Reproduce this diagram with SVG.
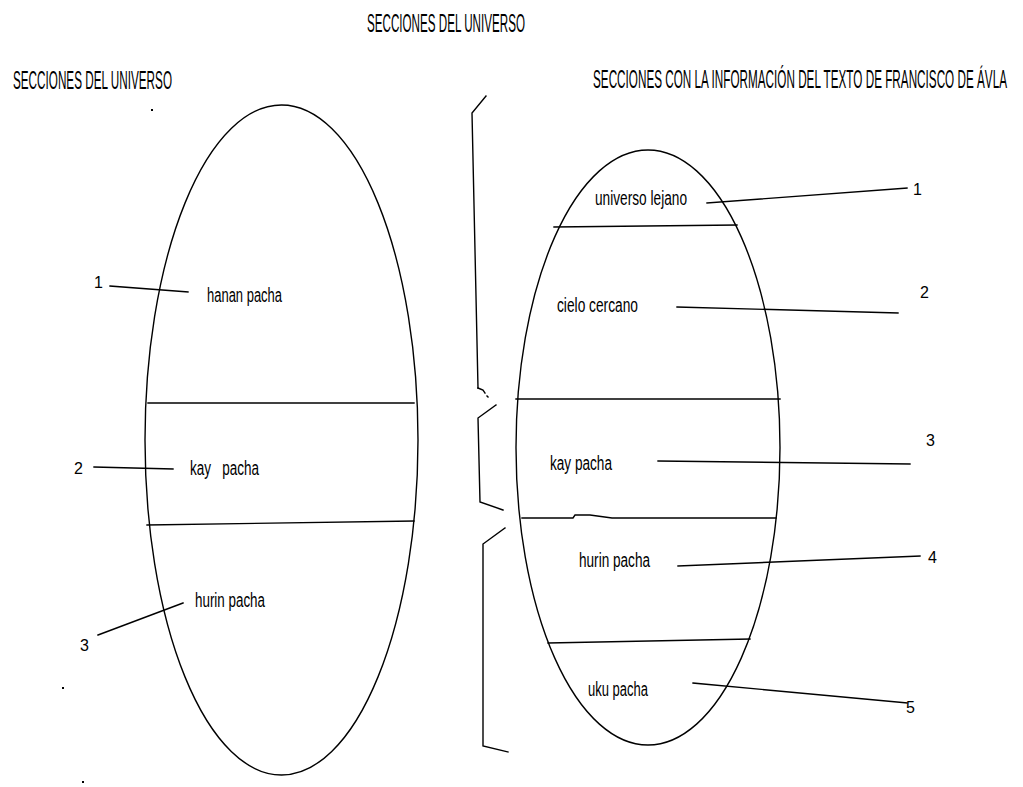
<svg xmlns="http://www.w3.org/2000/svg" width="1023" height="787" viewBox="0 0 1023 787">
<style>
.bg{fill:#fff}
.shape{fill:none;stroke:#000;stroke-width:1.4}
.ln{fill:none;stroke:#000;stroke-width:1.4;stroke-linecap:square}
.hd{font-family:"Liberation Sans",Arial,sans-serif;font-size:26px;fill:#000}
.lb{font-family:"Liberation Sans",Arial,sans-serif;font-size:20px;fill:#000}
.nm{font-family:"Liberation Sans",Arial,sans-serif;font-size:16px;fill:#000}
.dot{fill:#000}
</style>
<rect class="bg" x="0" y="0" width="1023" height="787"/>
<g id="titles">
<text class="hd" x="367" y="32" textLength="158" lengthAdjust="spacingAndGlyphs">SECCIONES DEL UNIVERSO</text>
<text class="hd" x="13" y="89" textLength="159" lengthAdjust="spacingAndGlyphs">SECCIONES DEL UNIVERSO</text>
<text class="hd" transform="translate(593,88) scale(0.45,1)" x="0" y="0" textLength="920" lengthAdjust="spacingAndGlyphs">SECCIONES CON LA INFORMACIÓN DEL TEXTO DE FRANCISCO DE ÁVLA</text>
</g>
<g id="left-egg">
<ellipse class="shape" cx="281.5" cy="440" rx="136.5" ry="335"/>
<line class="ln" x1="148" y1="403" x2="414" y2="403"/>
<line class="ln" x1="147" y1="525" x2="414" y2="521"/>
<text class="lb" x="207" y="302" textLength="75" lengthAdjust="spacingAndGlyphs">hanan pacha</text>
<text class="lb" x="190" y="475" textLength="69" lengthAdjust="spacingAndGlyphs" xml:space="preserve">kay   pacha</text>
<text class="lb" x="195" y="607" textLength="70" lengthAdjust="spacingAndGlyphs">hurin pacha</text>
<text class="nm" x="94" y="288">1</text>
<text class="nm" x="74" y="474">2</text>
<text class="nm" x="80" y="651">3</text>
</g>
<g id="brace">
<polyline class="ln" points="486,96 472,113 478,388"/>
<polyline class="ln" points="478,388 483,390 485,393"/>
<line class="ln" x1="487" y1="396" x2="488" y2="397"/>
<polyline class="ln" points="496,405 478,418 480,502 503,510"/>
<polyline class="ln" points="505,528 483,544 483,746 508,752"/>
</g>
<g id="right-egg">
<ellipse class="shape" cx="648" cy="447.5" rx="132" ry="297.5"/>
<line class="ln" x1="554" y1="227" x2="737" y2="225"/>
<line class="ln" x1="516" y1="399" x2="780" y2="399"/>
<polyline class="ln" points="522,518 573,518 575,515 590,515 612,518 776,518"/>
<line class="ln" x1="548" y1="643" x2="750" y2="639"/>
<text class="lb" x="595" y="205" textLength="92" lengthAdjust="spacingAndGlyphs">universo lejano</text>
<text class="lb" x="557" y="312" textLength="81" lengthAdjust="spacingAndGlyphs">cielo cercano</text>
<text class="lb" x="550" y="470" textLength="62" lengthAdjust="spacingAndGlyphs">kay pacha</text>
<text class="lb" x="579" y="567" textLength="71" lengthAdjust="spacingAndGlyphs">hurin pacha</text>
<text class="lb" x="588" y="696" textLength="60" lengthAdjust="spacingAndGlyphs">uku pacha</text>
<text class="nm" x="913" y="195">1</text>
<text class="nm" x="920" y="298">2</text>
<text class="nm" x="926" y="446">3</text>
<text class="nm" x="928" y="563">4</text>
<text class="nm" x="906" y="713">5</text>
</g>
<g id="connectors">
<line class="ln" x1="110" y1="286" x2="188" y2="292"/>
<line class="ln" x1="94" y1="467" x2="173" y2="469"/>
<line class="ln" x1="98" y1="635" x2="183" y2="603"/>
<line class="ln" x1="707" y1="203" x2="907" y2="188"/>
<line class="ln" x1="677" y1="307" x2="898" y2="313"/>
<line class="ln" x1="658" y1="461" x2="910" y2="464"/>
<line class="ln" x1="678" y1="566" x2="920" y2="556"/>
<line class="ln" x1="693" y1="683" x2="907" y2="703"/>
</g>
<g id="marks">
<rect class="dot" x="151" y="109" width="2" height="2"/>
<rect class="dot" x="62" y="687" width="2" height="2"/>
<rect class="dot" x="82" y="781" width="2" height="2"/>
</g>
</svg>
